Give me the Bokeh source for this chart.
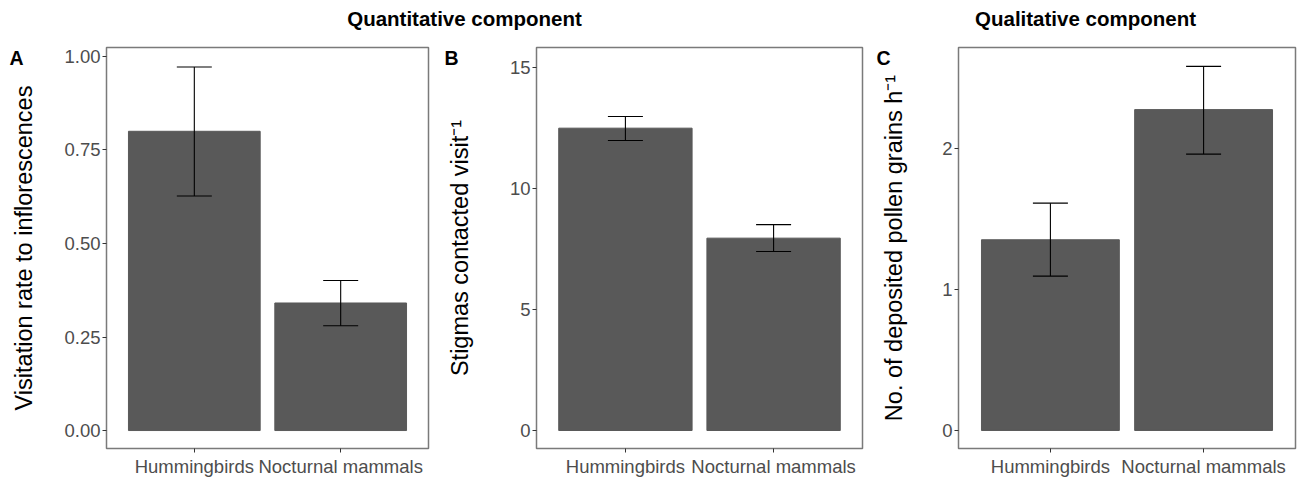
from bokeh.plotting import figure
from bokeh.models import (Range1d, FactorRange, Label, Whisker, ColumnDataSource,
                          FixedTicker, NumeralTickFormatter, TeeHead, LinearAxis)
from bokeh.layouts import column, row
from bokeh.embed import file_html
from bokeh.resources import INLINE

# ---------------- data ----------------
groups = ["Hummingbirds", "Nocturnal mammals"]

visit_mean = [0.800, 0.341]
visit_lo = [0.627, 0.280]
visit_hi = [0.972, 0.401]

stigma_mean = [12.48, 7.94]
stigma_lo = [11.97, 7.39]
stigma_hi = [12.96, 8.50]

pollen_mean = [1.354, 2.278]
pollen_lo = [1.096, 1.962]
pollen_hi = [1.614, 2.585]

titles = ["Quantitative component", "Qualitative component"]
panel_letters = ["A", "B", "C"]
ylabels = ["Visitation rate to inflorescences",
           "Stigmas contacted visit\u207B\u00B9",
           "No. of deposited pollen grains h\u207B\u00B9"]
yticks = [[0, 0.25, 0.5, 0.75, 1.0], [0, 5, 10, 15], [0, 1, 2]]
yformats = ["0.00", "0", "0"]

# ---------------- style ----------------
FONT = "Liberation Sans"
BAR = "#595959"
FRAME_H = 401
LETTER_POS = FRAME_H - 10   # pixel height above frame bottom for panel letters


def panel(means, lo, hi, ylabel, ticks, fmt, yr, letter, border_left, frame_w,
          border_right, label_standoff, letter_standoff):
    src = ColumnDataSource(dict(g=groups, m=means, lo=lo, hi=hi))
    p = figure(x_range=FactorRange(factors=groups, range_padding=0.1),
               y_range=Range1d(*yr),
               frame_width=frame_w, frame_height=FRAME_H,
               min_border_left=border_left, min_border_right=border_right,
               min_border_top=9, min_border_bottom=20,
               output_backend="svg", toolbar_location=None)
    p.vbar(x="g", top="m", bottom=0, width=0.9, source=src,
           fill_color=BAR, line_color=BAR)
    w = Whisker(base="g", upper="hi", lower="lo", source=src, level="overlay",
                line_color="black", line_width=1.1,
                upper_head=TeeHead(size=35, line_color="black", line_width=1.1),
                lower_head=TeeHead(size=35, line_color="black", line_width=1.1))
    p.add_layout(w)

    p.xgrid.visible = False
    p.ygrid.visible = False
    p.outline_line_color = "#7a7a7a"
    p.outline_line_width = 1.5
    p.background_fill_color = "white"
    p.border_fill_color = "white"

    for ax in (p.xaxis[0], p.yaxis[0]):
        ax.axis_line_color = None
        ax.major_tick_line_color = "#333333"
        ax.major_tick_out = 4
        ax.major_tick_in = 0
        ax.minor_tick_line_color = None
        ax.major_label_text_font = FONT
        ax.major_label_text_color = "#4d4d4d"
        ax.major_label_text_font_size = "18.5px"

    p.xaxis.major_label_standoff = 3
    yax = p.yaxis[0]
    yax.major_label_standoff = 2
    yax.ticker = FixedTicker(ticks=ticks)
    yax.formatter = NumeralTickFormatter(format=fmt)
    yax.axis_label = ylabel
    yax.axis_label_text_font = FONT
    yax.axis_label_text_font_style = "normal"
    yax.axis_label_text_font_size = "23.5px"
    yax.axis_label_text_color = "black"
    yax.axis_label_standoff = label_standoff

    # panel letter: an outer left axis with a single tick in pixel space
    p.extra_y_ranges = {"letter": Range1d(0, FRAME_H)}
    lax = LinearAxis(y_range_name="letter", ticker=FixedTicker(ticks=[LETTER_POS]),
                     major_label_overrides={LETTER_POS: letter})
    lax.axis_line_color = None
    lax.major_tick_line_color = None
    lax.minor_tick_line_color = None
    lax.major_tick_out = 0
    lax.major_tick_in = 0
    lax.major_label_standoff = letter_standoff
    lax.major_label_text_font = FONT
    lax.major_label_text_font_style = "bold"
    lax.major_label_text_font_size = "19.5px"
    lax.major_label_text_color = "black"
    p.add_layout(lax, "left")
    return p


pA = panel(visit_mean, visit_lo, visit_hi, ylabels[0], yticks[0], yformats[0],
           (-0.048, 1.024), panel_letters[0], 106, 322, 3, 24, -15)
pB = panel(stigma_mean, stigma_lo, stigma_hi, ylabels[1], yticks[1], yformats[1],
           (-0.743, 15.81), panel_letters[1], 105, 326, 3, 34, -15)
pC = panel(pollen_mean, pollen_lo, pollen_hi, ylabels[2], yticks[2], yformats[2],
           (-0.128, 2.719), panel_letters[2], 93, 337, 2, 32, -12)

# title strip
TW, TH = 1297, 38
t = figure(width=TW, height=TH, x_range=Range1d(0, TW), y_range=Range1d(0, TH),
           min_border=0, output_backend="svg", toolbar_location=None)
t.axis.visible = False
t.grid.visible = False
t.outline_line_color = None
for txt, cx in zip(titles, [464, 1085]):
    t.add_layout(Label(x=cx, y=TH - 18, text=txt, text_font=FONT,
                       text_font_style="bold", text_font_size="20.5px",
                       text_align="center", text_baseline="middle",
                       text_color="black"))

layout = column(t, row(pA, pB, pC, spacing=0), spacing=0)
open("out.html", "w").write(file_html(layout, INLINE))
